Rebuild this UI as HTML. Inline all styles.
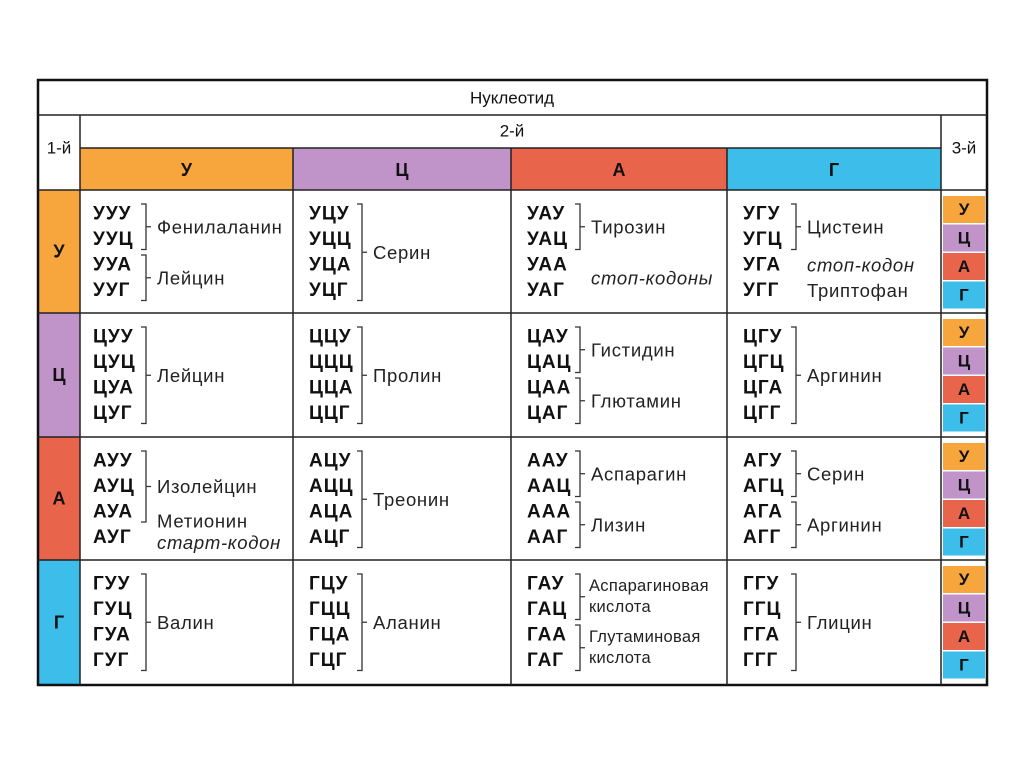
<!DOCTYPE html>
<html><head><meta charset="utf-8">
<style>
html,body{margin:0;padding:0;background:#fff;}
svg{display:block;font-family:"Liberation Sans","DejaVu Sans",sans-serif;}
</style></head>
<body>
<svg id="t" width="1024" height="767" viewBox="0 0 1024 767"></svg>
<script>
const bases=['У','Ц','А','Г'];
const colors=['#f6a63c','#c093c9','#e8654b','#3dbdea'];
const colX=[80,293,511,727,941];
const rowY=[190,313,437,560,685];
const labels=[
 [[{t:['Фенилаланин'],a:0,b:1,br:1},{t:['Лейцин'],a:2,b:3,br:1}],
  [{t:['Серин'],a:0,b:3,br:1}],
  [{t:['Тирозин'],a:0,b:1,br:1},{t:['стоп-кодоны'],a:2,b:3,br:0,it:1}],
  [{t:['Цистеин'],a:0,b:1,br:1},{t:['стоп-кодон'],a:2,b:2,br:0,it:1},{t:['Триптофан'],a:3,b:3,br:0}]],
 [[{t:['Лейцин'],a:0,b:3,br:1}],[{t:['Пролин'],a:0,b:3,br:1}],
  [{t:['Гистидин'],a:0,b:1,br:1},{t:['Глютамин'],a:2,b:3,br:1}],[{t:['Аргинин'],a:0,b:3,br:1}]],
 [[{t:['Изолейцин'],a:0,b:2,br:1},{t:['Метионин'],a:2.35,b:2.35,br:0},{t:['старт-кодон'],a:3.2,b:3.2,br:0,it:1}],
  [{t:['Треонин'],a:0,b:3,br:1}],
  [{t:['Аспарагин'],a:0,b:1,br:1},{t:['Лизин'],a:2,b:3,br:1}],
  [{t:['Серин'],a:0,b:1,br:1},{t:['Аргинин'],a:2,b:3,br:1}]],
 [[{t:['Валин'],a:0,b:3,br:1}],[{t:['Аланин'],a:0,b:3,br:1}],
  [{t:['Аспарагиновая','кислота'],a:0,b:1,br:1,small:1},{t:['Глутаминовая','кислота'],a:2,b:3,br:1,small:1}],
  [{t:['Глицин'],a:0,b:3,br:1}]]
];
const s=document.getElementById('t');
const NS='http://www.w3.org/2000/svg';
function mk(tag,at,par){const e=document.createElementNS(NS,tag);for(const k in at)e.setAttribute(k,at[k]);(par||s).appendChild(e);return e;}
function txt(x,y,str,opt,name){const e=mk('text',Object.assign({x:x,y:y,'font-size':18,fill:'#111','dominant-baseline':'central'},opt||{}));e.textContent=str;


return e;}
for(let i=0;i<4;i++){
 const r=mk('rect',{x:colX[i],y:148,width:colX[i+1]-colX[i],height:42,fill:colors[i]});
 
 
 txt((colX[i]+colX[i+1])/2,170,bases[i],{'text-anchor':'middle','font-weight':'bold'},'second-base-label');
 const r2=mk('rect',{x:38,y:rowY[i],width:42,height:rowY[i+1]-rowY[i],fill:colors[i]});
 
 
 txt(59,(rowY[i]+rowY[i+1])/2,bases[i],{'text-anchor':'middle','font-weight':'bold'},'first-base-label');
 for(let j=0;j<4;j++){
  const y=rowY[i]+6+j*28.5;
  const c=mk('rect',{x:943,y:y,width:42,height:27,fill:colors[j]});
  
  
  txt(964,y+13.5,bases[j],{'text-anchor':'middle','font-weight':'bold','font-size':17},'third-base-label');
 }
}
txt(512,98,'Нуклеотид',{'text-anchor':'middle','font-size':17},'nucleotide-title');
txt(512,131,'2-й',{'text-anchor':'middle','font-size':17},'second-position-title');
txt(59,148,'1-й',{'text-anchor':'middle','font-size':17},'first-position-title');
txt(964,148,'3-й',{'text-anchor':'middle','font-size':17},'third-position-title');
const ln=(x1,y1,x2,y2,w)=>mk('line',{x1,y1,x2,y2,stroke:'#222','stroke-width':w||1.5});
mk('rect',{x:38,y:80,width:949,height:605,fill:'none',stroke:'#111','stroke-width':2.5});
ln(38,115,987,115);ln(80,115,80,685);ln(941,115,941,685);
ln(80,148,941,148);ln(38,190,987,190);
for(let i=1;i<4;i++){ln(38,rowY[i],987,rowY[i]);ln(colX[i],148,colX[i],685);}
for(let r=0;r<4;r++)for(let c=0;c<4;c++){
 const x0=colX[c]+(c==0?13:16), y0=rowY[r]+24;
 for(let k=0;k<4;k++)txt(x0,y0+k*25.5,bases[r]+bases[c]+bases[k],{'font-weight':'bold','font-size':19,'letter-spacing':1},'codon');
 const lx=colX[c]+(c==0?77:80), bx=colX[c]+(c==0?61:64);
 labels[r][c].forEach(L=>{
  const top=y0+L.a*25.5-10, bot=y0+L.b*25.5+10, mid=(top+bot)/2;
  if(L.br){const p=mk('path',{d:`M${bx} ${top}H${bx+5}V${bot}H${bx}M${bx+5} ${mid}H${bx+10}`,fill:'none',stroke:'#333','stroke-width':1.3});
   }
  const ty=L.br?mid:(y0+L.a*25.5);
  const fs=L.small?16.5:18.5;
  const ls=L.small?0.3:0.7;
  if(L.t.length==1)txt(lx,(L.br||L.a!=L.b)?(top+bot)/2:ty,L.t[0],{'font-size':fs,'letter-spacing':ls,'font-style':L.it?'italic':'normal',fill:'#222'},'amino-acid-label');
  else L.t.forEach((t,i)=>txt(lx-2,mid-11+i*21,t,{'font-size':fs,'letter-spacing':ls,fill:'#222'},'amino-acid-label'));
 });
}
</script>
</body></html>
